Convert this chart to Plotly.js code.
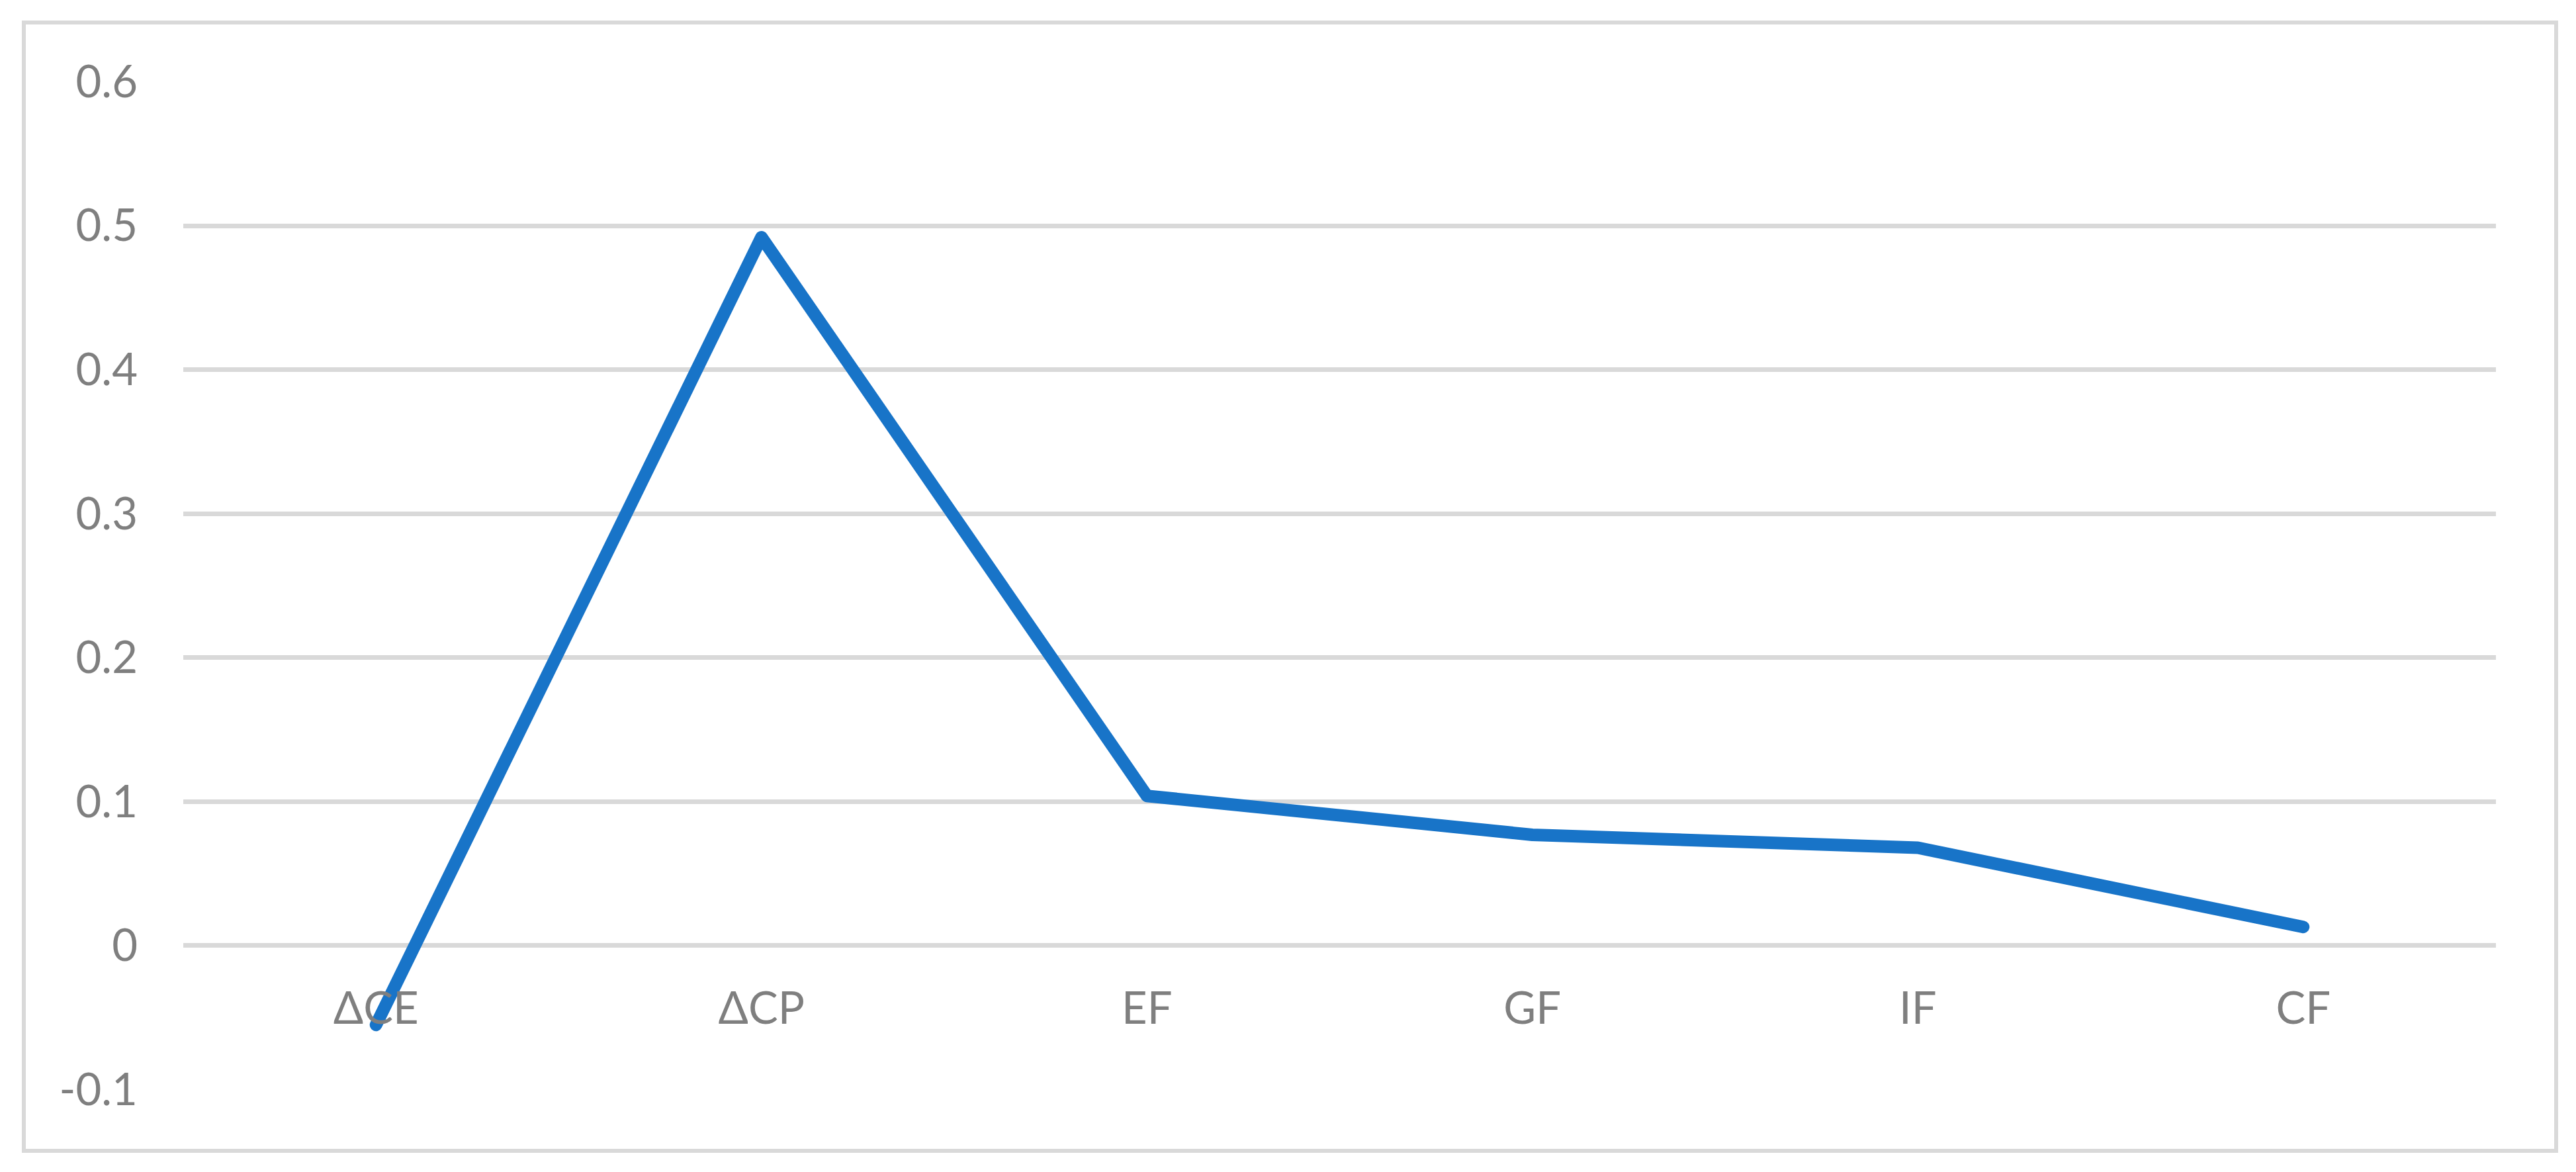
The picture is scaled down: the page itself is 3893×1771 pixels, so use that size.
<!DOCTYPE html>
<html>
<head>
<meta charset="utf-8">
<script src="https://cdn.plot.ly/plotly-3.0.1.min.js"></script>
<style>
  body { margin: 0; background: #fff; }
  #chart { width: 3893px; height: 1771px; }
  #frame {
    position: absolute; left: 33px; top: 31px;
    width: 3821px; height: 1699px;
    border: 6px solid #d9d9d9; pointer-events: none;
  }
  .scatterlayer .js-line { stroke-linecap: round !important; stroke-linejoin: round !important; }
</style>
</head>
<body>
<div id="chart"></div>
<div id="frame"></div>
<script>
// categories and values
var factors = ["\u0394CE", "\u0394CP", "EF", "GF", "IF", "CF"];
var weights = [-0.055, 0.492, 0.104, 0.077, 0.068, 0.013];

var yTicks = [-0.1, 0, 0.1, 0.2, 0.3, 0.4, 0.5, 0.6];
var yTickText = ["-0.1", "0", "0.1", "0.2", "0.3", "0.4", "0.5", "0.6"];

var labelFont = { family: "Lato, 'Noto Sans', sans-serif", size: 67, color: "#7f7f7f" };

var trace = {
    x: factors,
    y: weights,
    type: "scatter",
    mode: "lines",
    line: { color: "#1874c8", width: 19 },
    hoverinfo: "x+y"
};

var layout = {
    width: 3893,
    height: 1771,
    margin: { l: 277, r: 121, t: 123, b: 124 },
    paper_bgcolor: "#ffffff",
    plot_bgcolor: "#ffffff",
    showlegend: false,
    xaxis: {
        type: "category",
        range: [-0.5, 5.5],
        anchor: "free",
        position: 0.143,   // category labels hang under y = 0
        showgrid: false,
        showline: false,
        zeroline: false,
        ticks: "",
        ticklabelstandoff: 50,
        tickfont: labelFont
    },
    yaxis: {
        range: [-0.1002, 0.6002],
        tickvals: yTicks,
        ticktext: yTickText,
        showgrid: true,
        gridcolor: "#d9d9d9",
        gridwidth: 7,
        zeroline: false,
        showline: false,
        ticks: "",
        ticklabelstandoff: 68,
        tickfont: labelFont
    }
};

Plotly.newPlot("chart", [trace], layout, { displayModeBar: false, staticPlot: true });
</script>
</body>
</html>
